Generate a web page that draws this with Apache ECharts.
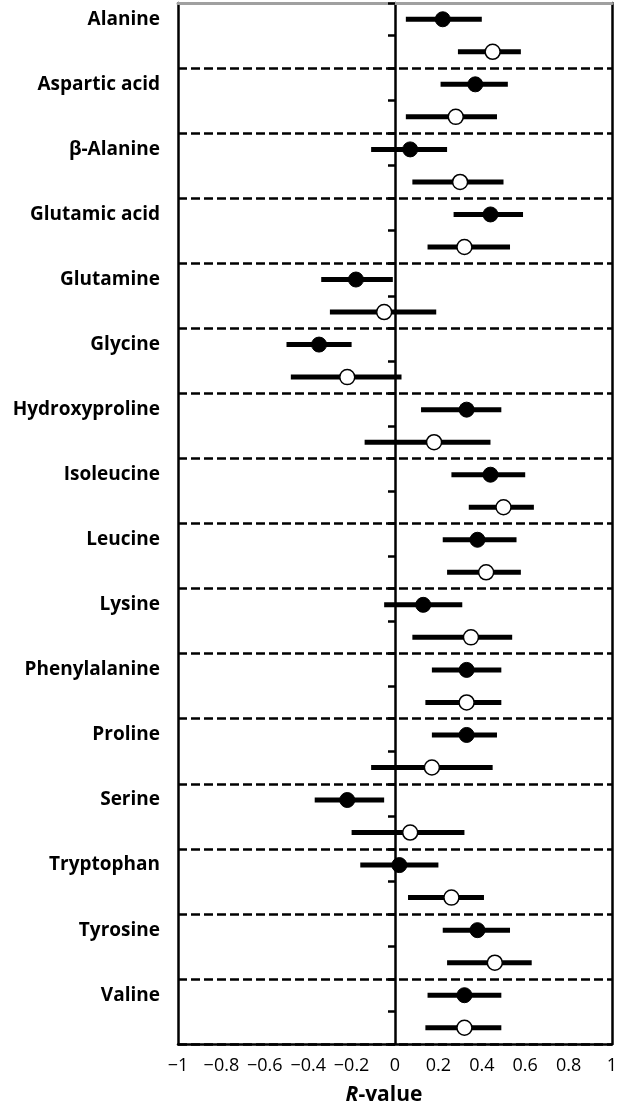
<!DOCTYPE html>
<html>
<head>
<meta charset="utf-8">
<script src="https://cdn.jsdelivr.net/npm/echarts@6/dist/echarts.min.js"></script>
<style>
  html, body { margin: 0; padding: 0; background: #fff; }
  #chart { width: 619px; height: 1109px; }
</style>
</head>
<body>
<div id="chart"></div>
<script>
// amino acids, top to bottom
const groups = ['Alanine', 'Aspartic acid', 'β-Alanine', 'Glutamic acid', 'Glutamine', 'Glycine',
  'Hydroxyproline', 'Isoleucine', 'Leucine', 'Lysine', 'Phenylalanine', 'Proline', 'Serine',
  'Tryptophan', 'Tyrosine', 'Valine'];

// filled circles (upper row of each group)
const filledR  = [0.22, 0.37, 0.07, 0.44, -0.18, -0.35, 0.33, 0.44, 0.38, 0.13, 0.33, 0.33, -0.22, 0.02, 0.38, 0.32];
const filledLo = [0.05, 0.21, -0.11, 0.27, -0.34, -0.50, 0.12, 0.26, 0.22, -0.05, 0.17, 0.17, -0.37, -0.16, 0.22, 0.15];
const filledHi = [0.40, 0.52, 0.24, 0.59, -0.01, -0.20, 0.49, 0.60, 0.56, 0.31, 0.49, 0.47, -0.05, 0.20, 0.53, 0.49];

// open circles (lower row of each group)
const openR  = [0.45, 0.28, 0.30, 0.32, -0.05, -0.22, 0.18, 0.50, 0.42, 0.35, 0.33, 0.17, 0.07, 0.26, 0.46, 0.32];
const openLo = [0.29, 0.05, 0.08, 0.15, -0.30, -0.48, -0.14, 0.34, 0.24, 0.08, 0.14, -0.11, -0.20, 0.06, 0.24, 0.14];
const openHi = [0.58, 0.47, 0.50, 0.53, 0.19, 0.03, 0.44, 0.64, 0.58, 0.54, 0.49, 0.45, 0.32, 0.41, 0.63, 0.49];

const xTicks = { min: -1, max: 1, step: 0.2 };

// two rows per amino acid
const rows = [];
for (let i = 0; i < groups.length * 2; i++) rows.push(String(i));

const bars = [];
const filledPts = [];
const openPts = [];
groups.forEach(function (g, i) {
  bars.push([filledLo[i], filledHi[i], 2 * i]);
  bars.push([openLo[i], openHi[i], 2 * i + 1]);
  filledPts.push([filledR[i], 2 * i]);
  openPts.push([openR[i], 2 * i + 1]);
});

const fontFam = '"Open Sans", Lato, sans-serif';

let myChart = echarts.init(document.getElementById('chart'));
let option = {
  backgroundColor: '#fff',
  animation: false,
  grid: { left: 178, right: 7, top: 3, bottom: 65, containLabel: false, outerBoundsMode: 'none' },
  xAxis: [{
    type: 'value',
    min: xTicks.min,
    max: xTicks.max,
    interval: xTicks.step,
    position: 'bottom',
    axisLine: { show: true, lineStyle: { color: '#000', width: 2.5 } },
    axisTick: { show: false },
    splitLine: { show: false },
    axisLabel: {
      color: '#000', fontSize: 18, fontFamily: fontFam, margin: 13,
      formatter: function (v) {
        const s = String(Math.round(v * 10) / 10);
        return s.replace('-', '\u2212');
      }
    },
    name: '{i|R}{b|-value}',
    nameLocation: 'middle',
    nameGap: 41,
    nameTextStyle: {
      padding: [0, 22, 0, 0],
      rich: {
        i: { fontSize: 21, fontWeight: 'bold', fontStyle: 'italic', fontFamily: fontFam, color: '#000' },
        b: { fontSize: 21, fontWeight: 'bold', fontFamily: fontFam, color: '#000' }
      }
    }
  }, {
    // grey top frame
    type: 'value',
    min: xTicks.min,
    max: xTicks.max,
    position: 'top',
    axisLine: { show: true, onZero: false, lineStyle: { color: '#a0a0a0', width: 3 } },
    axisTick: { show: false },
    axisLabel: { show: false },
    splitLine: { show: false }
  }],
  yAxis: [{
    // zero line with row ticks and group separators
    type: 'category',
    data: rows,
    inverse: true,
    position: 'left',
    axisLine: { show: true, onZero: true, lineStyle: { color: '#000', width: 2.5 } },
    axisTick: { show: true, interval: 0, length: 7, inside: false, lineStyle: { color: '#000', width: 2.5 } },
    axisLabel: { show: false },
    splitLine: {
      show: true,
      interval: function (i) { return i > 0 && i % 2 === 0; },
      lineStyle: { color: '#000', width: 2.5, type: [9, 4] }
    }
  }, {
    // left frame + group labels
    type: 'category',
    data: rows,
    inverse: true,
    position: 'left',
    axisLine: { show: true, onZero: false, lineStyle: { color: '#000', width: 2.5 } },
    axisTick: { show: false },
    splitLine: { show: false },
    axisLabel: {
      interval: 0,
      margin: 18,
      color: '#000',
      fontSize: 19,
      fontWeight: 'bold',
      fontFamily: fontFam,
      formatter: function (v, i) { return i % 2 === 0 ? groups[i / 2] : ''; }
    }
  }, {
    // right frame
    type: 'category',
    data: rows,
    inverse: true,
    position: 'right',
    axisLine: { show: true, onZero: false, lineStyle: { color: '#000', width: 2.5 } },
    axisTick: { show: false },
    axisLabel: { show: false },
    splitLine: { show: false }
  }],
  series: [{
    name: 'CI',
    type: 'custom',
    xAxisIndex: 0,
    yAxisIndex: 0,
    data: bars,
    encode: { x: [0, 1], y: 2 },
    renderItem: function (params, api) {
      const a = api.coord([api.value(0), api.value(2)]);
      const b = api.coord([api.value(1), api.value(2)]);
      return {
        type: 'line',
        shape: { x1: a[0], y1: a[1], x2: b[0], y2: b[1] },
        style: { stroke: '#000', lineWidth: 5 }
      };
    },
    z: 3
  }, {
    name: 'filled',
    type: 'scatter',
    xAxisIndex: 0,
    yAxisIndex: 0,
    data: filledPts,
    symbol: 'circle',
    symbolSize: 15,
    itemStyle: { color: '#000', borderColor: '#000', borderWidth: 1, opacity: 1 },
    z: 5
  }, {
    name: 'open',
    type: 'scatter',
    xAxisIndex: 0,
    yAxisIndex: 0,
    data: openPts,
    symbol: 'circle',
    symbolSize: 15,
    itemStyle: { color: '#fff', borderColor: '#000', borderWidth: 1.5, opacity: 1 },
    z: 5
  }]
};
myChart.setOption(option);
</script>
</body>
</html>
